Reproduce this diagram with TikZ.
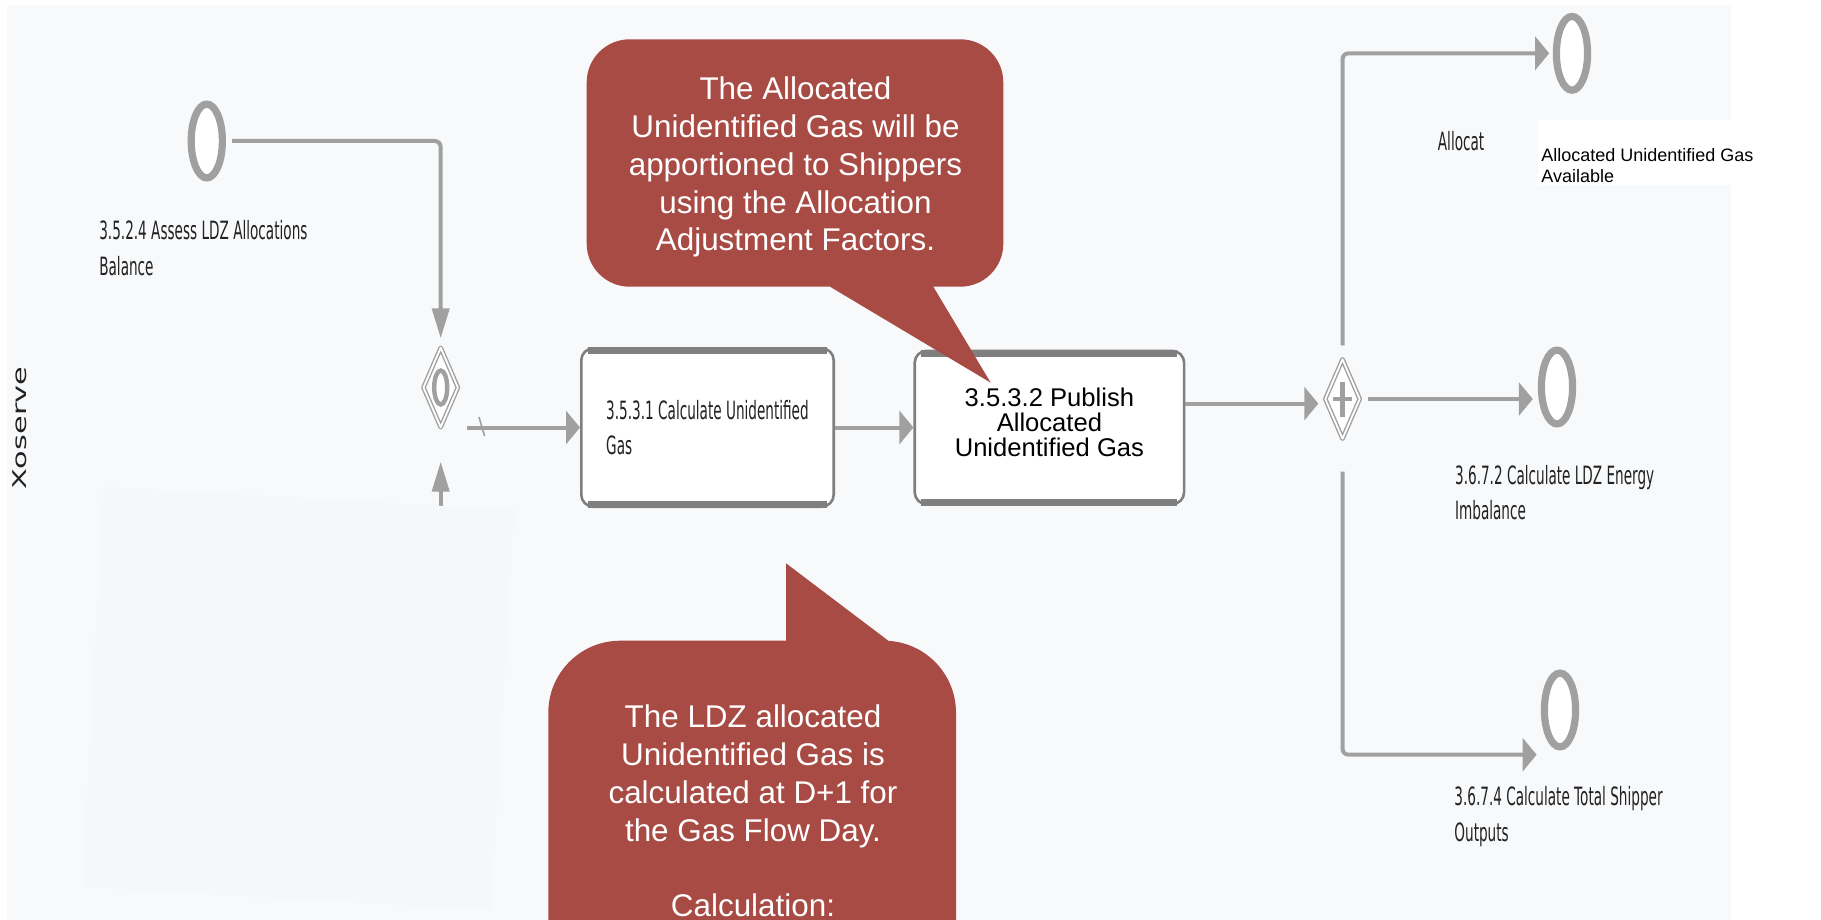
\documentclass[tikz,border=0pt]{standalone}
\usepackage{fontspec}
\setmainfont{Liberation Sans}
\newfontfamily\bpmnfont[FakeStretch=0.54]{DejaVu Sans}
\newfontfamily\lanefont[FakeStretch=1.6]{DejaVu Sans}
\usetikzlibrary{shapes.geometric, arrows.meta, calc}

\definecolor{canvasbg}{RGB}{248,249,251}
\definecolor{notebg}{RGB}{245,247,249}
\definecolor{flowgray}{RGB}{160,160,160}
\definecolor{taskgray}{RGB}{127,127,127}
\definecolor{calloutred}{RGB}{168,75,69}
\definecolor{labelink}{RGB}{34,34,34}

\begin{document}
\begin{tikzpicture}[x=0.5pt,y=0.5pt,yscale=-1,xscale=1,
  flow/.style={draw=flowgray, line width=2pt, rounded corners=3pt},
  htip/.style={-{Triangle[length=7pt,width=16.5pt]}},
  vtip/.style={-{Triangle[length=15pt,width=8.5pt]}},
  event/.style={ellipse, draw=flowgray, line width=3.6pt, fill=white, minimum width=15.6pt, minimum height=36.9pt, inner sep=0pt},
  gateway/.style={diamond, draw=flowgray, line width=0.7pt, double=white, double distance=0.9pt, line join=round, fill=white, minimum width=17.5pt, minimum height=40pt, inner sep=0pt},
  task/.style={rectangle, rounded corners=6pt, draw=taskgray, line width=1.3pt, fill=white, inner sep=0pt},
  tasklabel/.style={font=\bpmnfont\fontsize{12.6pt}{17.75pt}\selectfont, text=labelink, align=left, anchor=north west, inner sep=0pt},
  smalllabel/.style={font=\fontsize{9pt}{10.5pt}\selectfont, text=black, align=left, anchor=north west, inner sep=0pt},
  notetext/.style={font=\fontsize{15.7pt}{18.9pt}\selectfont, text=white, align=center, anchor=north, inner sep=0pt}
]
\useasboundingbox (0,0) rectangle (1821,920);
\clip (0,0) rectangle (1821,920);
\fill[white] (0,0) rectangle (1821,920);

%Shape: Rectangle [canvas]
\fill[canvasbg] (7,5) rectangle (1730.7,920);
\fill[white] (1537.7,120) rectangle (1821,185);

% Text Node
\node[font=\lanefont\fontsize{9.5pt}{11pt}\selectfont, text=labelink, rotate=90, inner sep=0pt] (lane) at (20,428.3) {Xoserve};

%Shape: Circle
\node[event] (start) at (206.8,141) {};
\node[event] (endtop) at (1572,53.3) {};
\node[event] (endmid) at (1557,387) {};
\node[event] (endbot) at (1560,710) {};

%Shape: Diamond
\node[gateway] (gw1) at (440.7,387.5) {};
\draw[flowgray, line width=2.2pt] (gw1.center) ellipse [x radius=6.5, y radius=17];
\node[gateway] (gw2) at (1342.5,399) {};
\draw[flowgray, line width=2.2pt] (gw2.center) ++(-9.5,0) -- ++(19,0) (gw2.center) ++(0,-17.5) -- ++(0,35);

%Shape: Rounded Rect
\node[task, minimum width=126.2pt, minimum height=79.2pt, align=left,
  font=\bpmnfont\fontsize{12.6pt}{17.75pt}\selectfont, text=labelink] (b1) at (707.5,427.5) {3.5.3.1 Calculate Unidentified\\Gas};
\node[task, minimum width=134.7pt, minimum height=76.7pt] (b2) at (1049.4,427.5) {};
\node[font=\fontsize{12.8pt}{12.5pt}\selectfont, text=black, align=center, anchor=north, inner sep=0pt] (b2text) at (1049.4,387.4) {3.5.3.2 Publish\\Allocated\\Unidentified Gas};
\draw[taskgray, line width=3.5pt] ($(b1.north west)+(8,3.5)$) -- ($(b1.north east)+(-8,3.5)$);
\draw[taskgray, line width=3.5pt] ($(b1.south west)+(8,-3.5)$) -- ($(b1.south east)+(-8,-3.5)$);
\draw[taskgray, line width=3.5pt] ($(b2.north west)+(8,3.5)$) -- ($(b2.north east)+(-8,3.5)$);
\draw[taskgray, line width=3.5pt] ($(b2.south west)+(8,-3.5)$) -- ($(b2.south east)+(-8,-3.5)$);

%Straight Lines
\coordinate (gw1out) at (466.7,427.5);
\coordinate (gw1in) at (440.7,515);
\coordinate (gw2in) at (1318.3,403.6);
\coordinate (botin) at (1536.6,754.7);
\draw[flow, vtip, shorten <=3pt, shorten >=4.2pt] (start.east) -| (gw1.north);
\draw[flow, htip] (gw1out) -- (b1.west);
\draw[flowgray, line width=0.8pt] (479,417) -- (484.5,436);
\draw[flow, vtip, shorten >=16.7pt] (gw1in) -- (gw1.south);
\draw[flow, htip] (b1.east) -- (b2.west);
\draw[flow, htip] (b2.east |- gw2in) -- (gw2in);
\draw[flow, htip, shorten <=6.5pt, shorten >=1.8pt] (gw2.north) |- (endtop.west);
\draw[flow, htip, shorten <=3.8pt, shorten >=2.5pt] (gw2.east) -- (endmid.west |- gw2.east);
\draw[flow, htip, shorten <=16pt] (gw2.south) |- (botin);

%Shape: Polygon [note]
\fill[notebg] (103.6,486.7) -- (514,510) -- (491,910) -- (82,886.7) -- cycle;

% Text Node
\node[tasklabel] (lblstart) at (98.9,220.1) {3.5.2.4 Assess LDZ Allocations\\Balance};
\node[tasklabel] (lblalloc) at (1437.5,130.8) {Allocat};
\node[tasklabel] (lblmid) at (1454.7,464.7) {3.6.7.2 Calculate LDZ Energy\\Imbalance};
\node[tasklabel] (lblbot) at (1454,786.1) {3.6.7.4 Calculate Total Shipper\\Outputs};
\node[smalllabel] (lblavail) at (1541,147.8) {Allocated Unidentified Gas\\Available};

%Shape: Callout
\fill[calloutred, rounded corners=21.5pt] (586.7,39.3) rectangle (1003.3,286.7);
\fill[calloutred] (830,286.7) -- (990.7,382.7) -- (933.3,286.7) -- (933.3,270) -- (830,270) -- cycle;
\node[notetext] (note1) at (795.5,76.5) {The Allocated\\Unidentified Gas will be\\apportioned to Shippers\\using the Allocation\\Adjustment Factors.};

\fill[calloutred, rounded corners=36pt] (548.3,640.7) rectangle (956,1000);
\fill[calloutred] (786,655) -- (786,563.3) -- (888.3,640.7) -- (888.3,655) -- cycle;
\node[notetext] (note2) at (753,704.8) {The LDZ allocated\\Unidentified Gas is\\calculated at D+1 for\\the Gas Flow Day.\\[18.9pt]Calculation:};

\end{tikzpicture}
\end{document}
